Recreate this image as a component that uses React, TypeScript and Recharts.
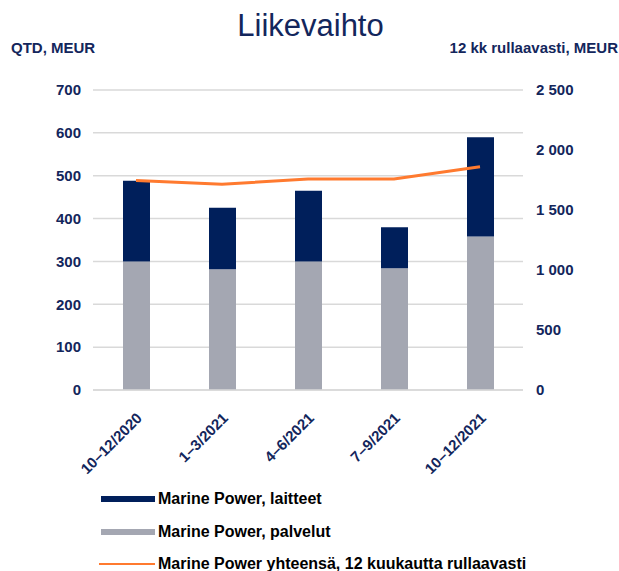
import React from 'react';
import {
  ComposedChart,
  Bar,
  Line,
  XAxis,
  YAxis,
  CartesianGrid
} from 'recharts';

const quarters = ['10–12/2020', '1–3/2021', '4–6/2021', '7–9/2021', '10–12/2021'];
const palvelut = [300, 282, 300, 284, 358];
const laitteet = [188, 143, 165, 96, 232];
const rolling12m = [1745, 1715, 1758, 1758, 1860];

const leftTicks = [0, 100, 200, 300, 400, 500, 600, 700];
const rightTicks = [0, 500, 1000, 1500, 2000, 2500];

const seriesNames = {
  laitteet: 'Marine Power, laitteet',
  palvelut: 'Marine Power, palvelut',
  rolling: 'Marine Power yhteensä, 12 kuukautta rullaavasti'
};

const NAVY = '#001f5b';
const GRAY = '#a4a7b2';
const ORANGE = '#ff7a2f';
const TEXT = '#13265c';
const FONT = '"Liberation Sans", Arial, sans-serif';

const data = quarters.map((q, i) => ({
  quarter: q,
  palvelut: palvelut[i],
  laitteet: laitteet[i],
  rolling: rolling12m[i]
}));

const fmtThousands = (v: number) =>
  v.toString().replace(/\B(?=(\d{3})+(?!\d))/g, ' ');

// rotated quarter labels, anchored at their end just right of the tick
const XTick = (props: any) => {
  const { x, y, payload } = props;
  return (
    <g transform={`translate(${x + 7},${y + 21})`}>
      <text
        transform="rotate(-45)"
        textAnchor="end"
        fill={TEXT}
        fontSize={15}
        fontWeight="bold"
        fontFamily={FONT}
      >
        {payload.value}
      </text>
    </g>
  );
};

const legendItems = [
  { name: seriesNames.laitteet, color: NAVY, thick: 6, left: 101 },
  { name: seriesNames.palvelut, color: GRAY, thick: 6, left: 101 },
  { name: seriesNames.rolling, color: ORANGE, thick: 2.5, left: 99 }
];

const App: React.FC = () => {
  const tickStyle = { fill: TEXT, fontSize: 15, fontWeight: 'bold', fontFamily: FONT };
  return (
    <div
      style={{
        position: 'absolute',
        left: 0,
        top: 0,
        width: 619,
        height: 571,
        background: '#fff',
        fontFamily: FONT,
        overflow: 'hidden'
      }}
    >
      <div
        style={{
          position: 'absolute',
          left: 0,
          width: 619,
          top: 10,
          textAlign: 'center',
          fontSize: 31,
          lineHeight: '31px',
          color: TEXT,
          paddingLeft: 1
        }}
      >
        Liikevaihto
      </div>
      <div
        style={{
          position: 'absolute',
          left: 11,
          top: 40,
          fontSize: 15,
          lineHeight: '15px',
          fontWeight: 'bold',
          color: TEXT
        }}
      >
        QTD, MEUR
      </div>
      <div
        style={{
          position: 'absolute',
          right: 1,
          top: 40,
          fontSize: 15,
          lineHeight: '15px',
          fontWeight: 'bold',
          color: TEXT
        }}
      >
        12 kk rullaavasti, MEUR
      </div>

      <div style={{ position: 'absolute', left: 0, top: 0 }}>
        <ComposedChart
          width={619}
          height={480}
          data={data}
          margin={{ top: 90, right: 0, left: 0, bottom: 10 }}
        >
          <CartesianGrid
            horizontal
            vertical={false}
            stroke="#d9d9d9"
            strokeWidth={1.5}
            yAxisId="left"
          />
          <XAxis
            dataKey="quarter"
            height={80}
            axisLine={{ stroke: '#d9d9d9', strokeWidth: 1.5 }}
            tickLine={false}
            interval={0}
            tick={<XTick />}
          />
          <YAxis
            yAxisId="left"
            orientation="left"
            width={93}
            domain={[0, 700]}
            ticks={leftTicks}
            axisLine={false}
            tickLine={false}
            tickSize={0}
            tickMargin={12}
            tick={tickStyle}
          />
          <YAxis
            yAxisId="right"
            orientation="right"
            width={96}
            domain={[0, 2500]}
            ticks={rightTicks}
            axisLine={false}
            tickLine={false}
            tickSize={0}
            tickMargin={13}
            tick={{ ...tickStyle, textAnchor: 'start' }}
            tickFormatter={fmtThousands}
          />
          <Bar
            yAxisId="left"
            dataKey="palvelut"
            stackId="mp"
            fill={GRAY}
            barSize={27}
            name={seriesNames.palvelut}
            isAnimationActive={false}
          />
          <Bar
            yAxisId="left"
            dataKey="laitteet"
            stackId="mp"
            fill={NAVY}
            barSize={27}
            name={seriesNames.laitteet}
            isAnimationActive={false}
          />
          <Line
            yAxisId="right"
            dataKey="rolling"
            type="linear"
            stroke={ORANGE}
            strokeWidth={3}
            dot={false}
            activeDot={false}
            name={seriesNames.rolling}
            isAnimationActive={false}
          />
        </ComposedChart>
      </div>

      {legendItems.map((item, i) => (
        <div
          key={item.name}
          style={{
            position: 'absolute',
            left: item.left,
            top: 489 + i * 32.5,
            height: 20,
            display: 'flex',
            alignItems: 'center'
          }}
        >
          <span
            style={{
              display: 'inline-block',
              width: 155 - item.left,
              height: item.thick,
              background: item.color,
              marginRight: 3
            }}
          />
          <span
            style={{
              fontSize: 16,
              fontWeight: 'bold',
              color: '#000',
              whiteSpace: 'nowrap',
              lineHeight: '20px'
            }}
          >
            {item.name}
          </span>
        </div>
      ))}
    </div>
  );
};

export default App;
